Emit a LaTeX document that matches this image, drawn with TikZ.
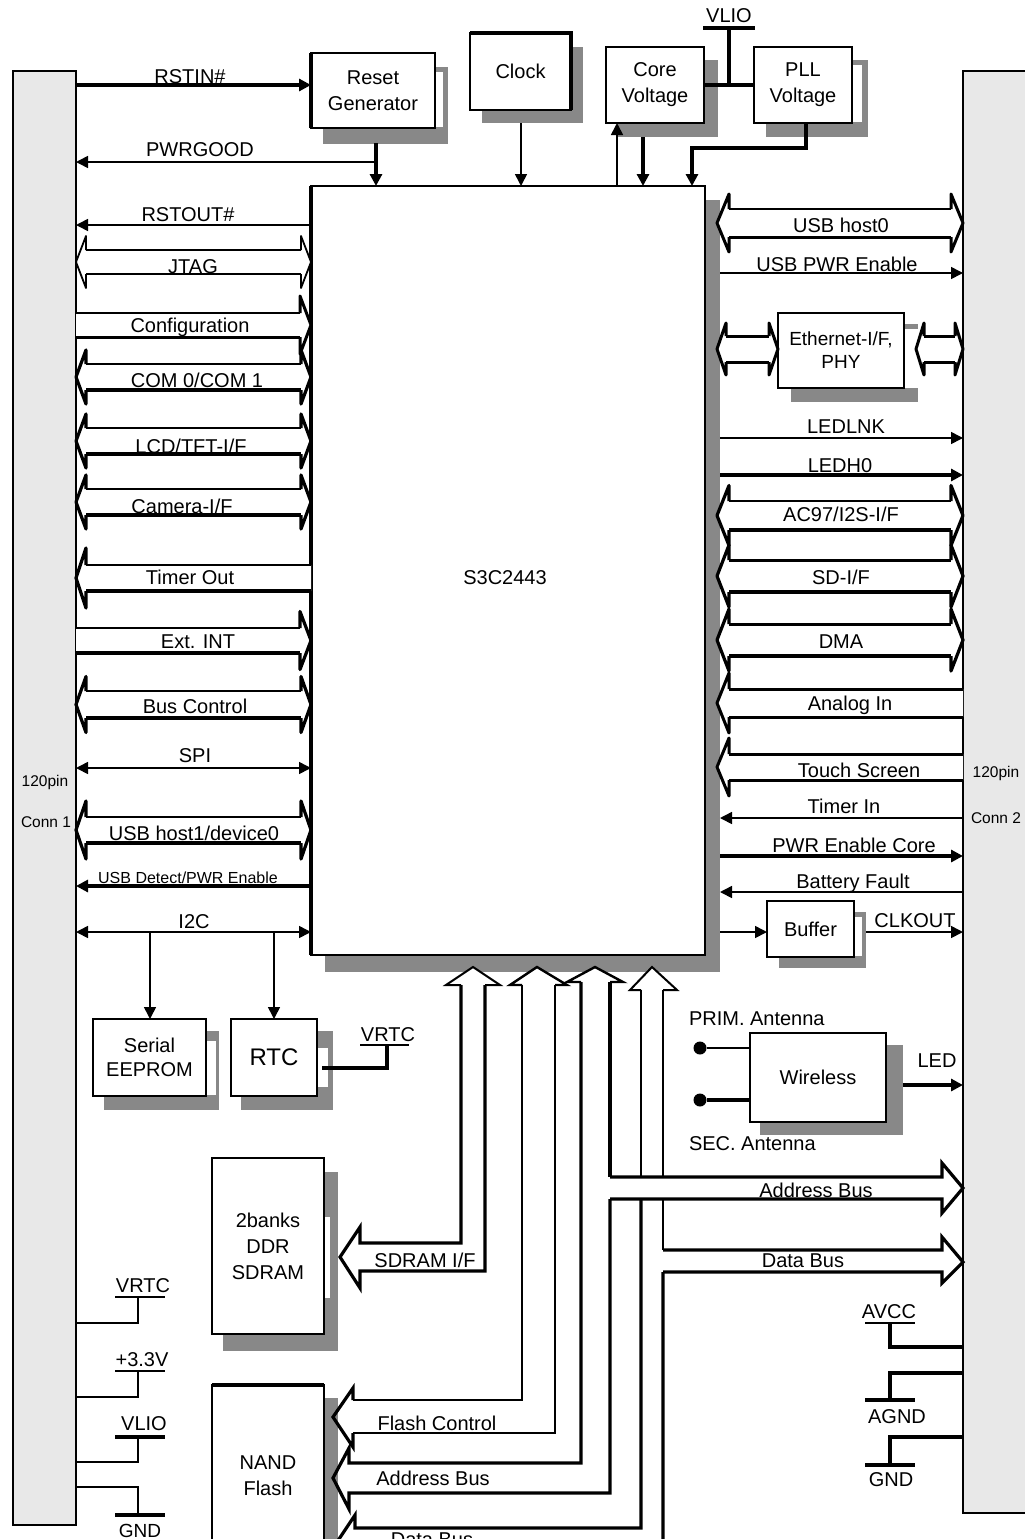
\documentclass[tikz,border=0pt]{standalone}
\usepackage{fontspec}
\setmainfont{Liberation Sans}
\usetikzlibrary{arrows.meta}
\definecolor{shd}{RGB}{136,136,136}
\definecolor{barfill}{RGB}{232,232,232}
% #1 xL #2 xR #3 yc #4 half shaft #5 half head #6 head length #7 top width #8 bottom width
\newcommand{\busB}[8]{%
 \fill[white] (#1,#3) -- ({#1+#6},{#3-#5}) -- ({#1+#6},{#3-#4}) -- ({#2-#6},{#3-#4}) -- ({#2-#6},{#3-#5}) -- (#2,#3) -- ({#2-#6},{#3+#5}) -- ({#2-#6},{#3+#4}) -- ({#1+#6},{#3+#4}) -- ({#1+#6},{#3+#5}) -- cycle;
 \draw[line width=#7] ({#1+#6},{#3-#4}) -- ({#2-#6},{#3-#4});
 \draw[line width=#8] ({#1+#6},{#3+#4}) -- ({#2-#6},{#3+#4});
 \draw[line width=#8, line join=round] ({#1+#6},{#3-#4}) -- ({#1+#6},{#3-#5}) -- (#1,#3) -- ({#1+#6},{#3+#5}) -- ({#1+#6},{#3+#4});
 \draw[line width=#8, line join=round] ({#2-#6},{#3-#4}) -- ({#2-#6},{#3-#5}) -- (#2,#3) -- ({#2-#6},{#3+#5}) -- ({#2-#6},{#3+#4});
}
\newcommand{\busR}[8]{%
 \fill[white] (#1,{#3-#4}) -- ({#2-#6},{#3-#4}) -- ({#2-#6},{#3-#5}) -- (#2,#3) -- ({#2-#6},{#3+#5}) -- ({#2-#6},{#3+#4}) -- (#1,{#3+#4}) -- cycle;
 \draw[line width=#7] (#1,{#3-#4}) -- ({#2-#6},{#3-#4});
 \draw[line width=#8] (#1,{#3+#4}) -- ({#2-#6},{#3+#4});
 \draw[line width=#8, line join=round] ({#2-#6},{#3-#4}) -- ({#2-#6},{#3-#5}) -- (#2,#3) -- ({#2-#6},{#3+#5}) -- ({#2-#6},{#3+#4});
}
\newcommand{\busL}[8]{%
 \fill[white] (#2,{#3-#4}) -- ({#1+#6},{#3-#4}) -- ({#1+#6},{#3-#5}) -- (#1,#3) -- ({#1+#6},{#3+#5}) -- ({#1+#6},{#3+#4}) -- (#2,{#3+#4}) -- cycle;
 \draw[line width=#7] (#2,{#3-#4}) -- ({#1+#6},{#3-#4});
 \draw[line width=#8] (#2,{#3+#4}) -- ({#1+#6},{#3+#4});
 \draw[line width=#8, line join=round] ({#1+#6},{#3-#4}) -- ({#1+#6},{#3-#5}) -- (#1,#3) -- ({#1+#6},{#3+#5}) -- ({#1+#6},{#3+#4});
}
\begin{document}
\begin{tikzpicture}[x=1pt,y=-1pt,
  every node/.style={inner sep=0pt, outer sep=0pt},
  f20/.style={font=\fontsize{20}{25}\selectfont},
  lab/.style={f20, anchor=base},
  sml/.style={font=\fontsize{16}{18}\selectfont, anchor=base},
  blk/.style={draw, fill=white, line width=2pt, align=center, f20},
  ln/.style={line width=1.6pt},
  lnT/.style={line width=3.2pt},
  >={Triangle[length=12pt,width=12pt]},
  line join=miter]
\useasboundingbox (0,0) rectangle (1025,1539);

% connector bars
\node[draw, fill=barfill, line width=2.5pt, minimum width=63pt, minimum height=1454pt] (lbar) at (44.5,798) {};
\node[draw, fill=barfill, line width=2.5pt, minimum width=72pt, minimum height=1442pt] (rbar) at (999,792) {};
\node[sml, font=\fontsize{15.5}{18}\selectfont] (c1a) at (45,786) {120pin};
\node[sml, font=\fontsize{15.5}{18}\selectfont] (c1b) at (46,827) {Conn 1};
\node[sml, font=\fontsize{15.5}{18}\selectfont] (c2a) at (996,777) {120pin};
\node[sml, font=\fontsize{15.5}{18}\selectfont] (c2b) at (996,823) {Conn 2};

% shadows
\fill[shd] (325,200) rectangle (720,972); \coordinate (chipsh) at (720,972);
\fill[shd] (323,67) rectangle (448,144); \fill[white] (436,72) rectangle (443,127);
\fill[shd] (482,47) rectangle (583,123);
\fill[shd] (618,60) rectangle (718,137);
\fill[shd] (766,60) rectangle (868,137); \fill[white] (853,65) rectangle (862,122);
\fill[shd] (791,324) rectangle (918,402); \fill[white] (905,329) rectangle (919,388);
\fill[shd] (779,912) rectangle (866,968); \fill[white] (855,917) rectangle (862,956);
\fill[shd] (104,1031) rectangle (219,1110); \fill[white] (207,1041) rectangle (216,1095);
\fill[shd] (241,1031) rectangle (333,1110); \fill[white] (318,1048) rectangle (328,1087);
\fill[shd] (223,1172) rectangle (338,1351); \fill[white] (325,1217) rectangle (330,1298);
\fill[shd] (224,1398) rectangle (338,1600);
\fill[shd] (760,1045) rectangle (903,1135);

% boxes
\node[blk, minimum width=124pt, minimum height=75pt, font=\fontsize{20}{26}\selectfont] (reset) at (373,90.5) {Reset\\Generator};
\draw[line width=3.2pt] (reset.south west) -- (reset.north west);
\node[blk, minimum width=101pt, minimum height=77pt] (clock) at (520.5,71.5) {Clock};
\draw[line width=4pt] (clock.north west) -- (clock.north east) -- (clock.south east);
\node[blk, minimum width=98pt, minimum height=76pt, font=\fontsize{20}{26}\selectfont] (core) at (655,85) {Core\\Voltage};
\node[blk, minimum width=98pt, minimum height=76pt, font=\fontsize{20}{26}\selectfont] (pll) at (803,85) {PLL\\Voltage};
\node[blk, line width=2.2pt, minimum width=394pt, minimum height=769pt] (chip) at (508,570.5) {};
\draw[line width=3.2pt] (chip.south west) -- (chip.north west);
\node[f20] (chiplbl) at (505,578) {S3C2443};
\node[blk, minimum width=126pt, minimum height=75pt, font=\fontsize{19}{23}\selectfont] (eth) at (841,350.5) {Ethernet-I/F,\\PHY};
\node[blk, minimum width=87pt, minimum height=56pt] (buffer) at (810.5,929) {Buffer};
\node[blk, minimum width=113pt, minimum height=77pt, font=\fontsize{20}{24}\selectfont] (eeprom) at (149.5,1057.5) {Serial\\EEPROM};
\node[blk, minimum width=86pt, minimum height=77pt, font=\fontsize{24}{28}\selectfont] (rtc) at (274,1057.5) {RTC};
\node[blk, minimum width=112pt, minimum height=176pt, font=\fontsize{20}{26}\selectfont] (sdram) at (268,1246) {2banks\\DDR\\SDRAM};
\node[blk, minimum width=112pt, minimum height=200pt] (nand) at (268,1485) {};
\draw[line width=4pt] (nand.north west) -- (nand.north east);
\node[f20, align=center, font=\fontsize{20}{26}\selectfont] (nandlbl) at (268,1476) {NAND\\Flash};
\node[blk, minimum width=136pt, minimum height=89pt] (wireless) at (818,1077.5) {Wireless};

% top connections
\draw[lnT,->] (lbar.east |- 0,85) -- (reset.west |- 0,85);
\node[lab] (tRSTIN) at (190,83) {RSTIN\#};
\coordinate (rg) at (376,143);
\draw[lnT,->] (rg) -- (chip.north -| rg);
\draw[ln,->] (rg |- 0,162) -- (lbar.east |- 0,162);
\node[lab] (tPWRGOOD) at (200,156) {PWRGOOD};
\draw[ln,->] (chip.west |- 0,225) -- (lbar.east |- 0,225);
\node[lab] (tRSTOUT) at (188,221) {RSTOUT\#};
\coordinate (ck) at (521,123);
\draw[ln,->] (ck) -- (chip.north -| ck);
\draw[ln,->] (chip.north -| 617,0) -- (core.south -| 617,0);
\draw[lnT,->] (643,137) -- (chip.north -| 643,0);
\draw[lnT,->] (pll.south -| 806,0) -- (806,148) -- (692,148) -- (chip.north -| 692,0);
\draw[lnT] (703,28) -- (755,28);
\draw[lnT] (729,28) -- (729,85);
\draw[lnT] (core.east |- 0,85) -- (pll.west |- 0,85);
\node[lab] (tVLIO) at (729,23) {VLIO};

% left buses
\busB{76}{311}{262}{12}{26}{10}{1.6pt}{1.8pt}
\node[lab] (tJTAG) at (193,273) {JTAG};
\busR{76}{311}{325}{12}{29}{11}{1.6pt}{3pt}
\node[lab] (tCfg) at (190,332) {Configuration};
\busB{76}{311}{377}{13}{27}{10}{1.6pt}{3.2pt}
\node[lab] (tCOM) at (197,387) {COM 0/COM 1};
\busB{76}{311}{441}{13}{27}{10}{1.6pt}{3.2pt}
\node[lab] (tLCD) at (191,453) {LCD/TFT-I/F};
\busB{76}{311}{502}{13}{27}{10}{1.6pt}{3.2pt}
\node[lab] (tCam) at (182,513) {Camera-I/F};
\busL{76}{311}{578}{13}{30}{10}{1.6pt}{3.2pt}
\node[lab] (tTO) at (190,584) {Timer Out};
\busR{76}{311}{640.5}{12.5}{29}{11}{1.6pt}{3.2pt}
\node[lab] (tExt) at (198,648) {Ext. INT};
\busB{76}{311}{704.5}{13.5}{28}{10}{1.6pt}{3.2pt}
\node[lab] (tBus) at (195,713) {Bus Control};
\draw[ln,<->] (lbar.east |- 0,768) -- (chip.west |- 0,768);
\node[lab] (tSPI) at (195,762) {SPI};
\busB{76}{311}{830}{13}{29}{10}{1.6pt}{3.2pt}
\node[lab] (tUSB1) at (194,840) {USB host1/device0};
\draw[lnT,->] (chip.west |- 0,886) -- (lbar.east |- 0,886);
\node[sml] (tUSBD) at (188,883) {USB Detect/PWR Enable};
\draw[ln,<->] (lbar.east |- 0,932) -- (chip.west |- 0,932);
\node[lab] (tI2C) at (194,928) {I2C};
\draw[ln,->] (150,932) -- (eeprom.north -| 150,0);
\draw[ln,->] (274,932) -- (rtc.north);
\draw[lnT] (322,1068) -- (387,1068) -- (387,1045);
\draw[ln] (360,1045) -- (409,1045);
\node[lab] (tVRTC1) at (388,1041) {VRTC};

% right buses
\busB{717}{963}{223}{14}{29}{12}{2.6pt}{3pt}
\node[lab] (tUSB0) at (841,232) {USB host0};
\draw[ln,->] (chipsh |- 0,273) -- (rbar.west |- 0,273);
\node[lab] (tUSBPWR) at (837,271) {USB PWR Enable};
\busB{717}{778}{349}{13}{26}{9}{3pt}{3pt}
\busB{916}{963}{349}{13}{26}{8}{3pt}{3pt}
\draw[ln,->] (chipsh |- 0,438) -- (rbar.west |- 0,438);
\node[lab] (tLEDLNK) at (846,433) {LEDLNK};
\draw[lnT,->] (chipsh |- 0,475) -- (rbar.west |- 0,475);
\node[lab] (tLEDH0) at (840,472) {LEDH0};
\busB{717}{963}{515.5}{14.5}{30}{12}{1.6pt}{3.2pt}
\node[lab] (tAC97) at (841,521) {AC97/I2S-I/F};
\busB{717}{963}{576}{16}{31}{12}{3pt}{3.2pt}
\node[lab] (tSD) at (841,584) {SD-I/F};
\busB{717}{963}{640}{16}{31}{12}{3pt}{3.2pt}
\node[lab] (tDMA) at (841,648) {DMA};
\busL{717}{963}{703}{14}{30}{12}{3pt}{3pt}
\node[lab] (tAna) at (850,710) {Analog In};
\busL{717}{963}{767}{13}{29}{12}{3pt}{3pt}
\node[lab] (tTouch) at (859,777) {Touch Screen};
\draw[ln,->] (rbar.west |- 0,818) -- (chipsh |- 0,818);
\node[lab] (tTI) at (844,813) {Timer In};
\draw[lnT,->] (chipsh |- 0,856) -- (rbar.west |- 0,856);
\node[lab] (tPEC) at (854,852) {PWR Enable Core};
\draw[ln,->] (rbar.west |- 0,892) -- (chipsh |- 0,892);
\node[lab] (tBF) at (853,888) {Battery Fault};
\draw[ln,->] (chipsh |- 0,932) -- (buffer.west |- 0,932);
\draw[ln,->] (866,932) -- (rbar.west |- 0,932);
\node[lab] (tCLK) at (915,927) {CLKOUT};

% wireless
\node[circle, fill, minimum size=13pt] (ant1) at (700,1048) {};
\node[circle, fill, minimum size=13pt] (ant2) at (700,1100) {};
\draw[ln] (ant1) -- (wireless.west |- ant1);
\draw[lnT] (ant2) -- (wireless.west |- ant2);
\draw[lnT,->] (903,1085) -- (rbar.west |- 0,1085);
\node[lab, anchor=base west] (tPRIM) at (689,1025) {PRIM. Antenna};
\node[lab, anchor=base west] (tSEC) at (689,1150) {SEC. Antenna};
\node[lab] (tLED) at (937,1067) {LED};

% bottom upward buses
% A : SDRAM I/F
\fill[white] (446,985) -- (473,967) -- (500,985) -- cycle;
\draw[line width=2pt] (461,985) -- (446,985) -- (473,967) -- (500,985) -- (485,985);
\fill[white] (360,1243) -- (360,1227) -- (340,1257) -- (360,1288) -- (360,1271) -- (380,1271) -- (380,1243) -- cycle;
\draw[lnT] (461,985) -- (461,1243) -- (360,1243) -- (360,1227) -- (340,1257) -- (360,1288) -- (360,1271) -- (485,1271) -- (485,985);
\node[lab] (tSDRAM) at (425,1267) {SDRAM I/F};
% B : Flash Control
\fill[white] (510,985) -- (537,967) -- (567,985) -- cycle;
\draw[line width=2.4pt] (522,985) -- (510,985) -- (537,967) -- (567,985) -- (555,985);
\draw[line width=2pt] (522,985) -- (522,1400) -- (353,1400);
\draw[lnT] (353,1400) -- (353,1388) -- (333,1417) -- (353,1447) -- (353,1433);
\draw[line width=2pt] (353,1433) -- (555,1433) -- (555,985);
\node[lab] (tFC) at (437,1430) {Flash Control};
% C : Address Bus
\fill[white] (567,982) -- (595,967) -- (623,982) -- cycle;
\draw[line width=2.4pt] (581,982) -- (567,982) -- (595,967) -- (623,982) -- (610,982);
\draw[lnT] (581,982) -- (581,1463) -- (349,1463) -- (349,1448) -- (333,1478) -- (349,1509) -- (349,1493) -- (610,1493) -- (610,1199);
\draw[lnT] (610,982) -- (610,1177);
\node[lab] (tAB1) at (433,1485) {Address Bus};
% D : Data Bus
\fill[white] (630,990) -- (652,967) -- (677,990) -- cycle;
\draw[line width=2pt] (641,990) -- (630,990) -- (652,967) -- (677,990) -- (663,990);
\draw[line width=2pt] (641,990) -- (641,1200);
\draw[lnT] (641,1200) -- (641,1528) -- (355,1528) -- (355,1515) -- (335,1545) -- (355,1575) -- (355,1562) -- (663,1562) -- (663,1272);
\draw[line width=2pt] (663,990) -- (663,1250);
\node[lab] (tDB1) at (432,1546) {Data Bus};
% right branches
\fill[white] (610,1177) -- (942,1177) -- (942,1163) -- (963,1188) -- (942,1213) -- (942,1199) -- (610,1199) -- cycle;
\draw[lnT] (610,1177) -- (942,1177) -- (942,1163) -- (963,1188) -- (942,1213) -- (942,1199) -- (610,1199);
\node[lab] (tAB2) at (816,1197) {Address Bus};
\fill[white] (663,1250) -- (942,1250) -- (942,1237) -- (963,1262) -- (942,1283) -- (942,1272) -- (663,1272) -- cycle;
\draw[lnT] (663,1250) -- (942,1250) -- (942,1237) -- (963,1262) -- (942,1283) -- (942,1272) -- (663,1272);
\node[lab] (tDB2) at (803,1267) {Data Bus};

% right power
\draw[ln] (865,1323) -- (915,1323);
\draw[lnT] (890,1323) -- (890,1347) -- (rbar.west |- 0,1347);
\node[lab] (tAVCC) at (889,1318) {AVCC};
\draw[lnT] (rbar.west |- 0,1373) -- (890,1373) -- (890,1400);
\draw[lnT] (865,1400) -- (915,1400);
\node[lab] (tAGND) at (897,1423) {AGND};
\draw[lnT] (rbar.west |- 0,1437) -- (890,1437) -- (890,1465);
\draw[lnT] (865,1465) -- (915,1465);
\node[lab] (tGND2) at (891,1486) {GND};

% left power
\draw[ln] (115,1297) -- (165,1297);
\draw[line width=2.2pt] (138,1297) -- (138,1323) -- (lbar.east |- 0,1323);
\node[lab] (tVRTC2) at (143,1292) {VRTC};
\draw[ln] (115,1371) -- (165,1371);
\draw[line width=2.8pt] (138,1371) -- (138,1397) -- (lbar.east |- 0,1397);
\node[lab] (t33) at (142,1366) {+3.3V};
\draw[line width=4pt] (115,1437) -- (165,1437);
\draw[line width=2.8pt] (138,1437) -- (138,1462) -- (lbar.east |- 0,1462);
\node[lab] (tVLIO2) at (144,1430) {VLIO};
\draw[line width=2.8pt] (lbar.east |- 0,1487) -- (138,1487) -- (138,1515);
\draw[line width=4pt] (115,1515) -- (165,1515);
\node[lab, font=\fontsize{19}{20}\selectfont] (tGND1) at (140,1537) {GND};
\end{tikzpicture}
\end{document}
